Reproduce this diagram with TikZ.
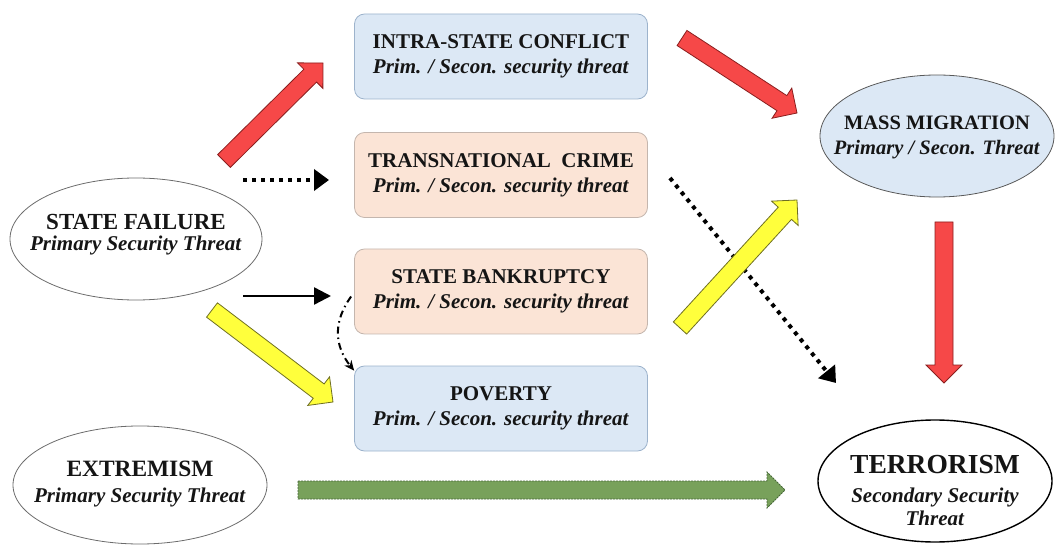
\documentclass[tikz,border=0pt]{standalone}
\usepackage{fontspec}
\setmainfont{Liberation Serif}
\usepackage{tikz}
\usetikzlibrary{shapes,calc}
\usetikzlibrary{arrows.meta}

\definecolor{boxblue}{HTML}{DCE8F5}
\definecolor{boxblueline}{HTML}{9DB3CC}
\definecolor{boxpeach}{HTML}{FBE4D6}
\definecolor{boxpeachline}{HTML}{C4B6AE}
\definecolor{arrowred}{HTML}{F64848}
\definecolor{arrowredline}{HTML}{8A1E1E}
\definecolor{arrowyellow}{HTML}{FFFF3C}
\definecolor{arrowyellowline}{HTML}{6F6F22}
\definecolor{arrowgreen}{HTML}{78A15B}
\definecolor{arrowgreenline}{HTML}{48683A}
\definecolor{inktext}{HTML}{151515}

% italic second line of every label
\newcommand{\kind}[1]{\textit{#1}}

% fat arrow from #2 to #3, as a closed outline
\newcommand{\blockarrow}[3][]{%
  \coordinate (ba-h) at ($(#3)!18pt!(#2)$);
  \draw[#1] ($(#2)!9pt!90:(#3)$) -- ($(ba-h)!9pt!-90:(#2)$)
    -- ($(ba-h)!18pt!-90:(#2)$) -- (#3) -- ($(ba-h)!18pt!90:(#2)$)
    -- ($(ba-h)!9pt!90:(#2)$) -- ($(#2)!9pt!-90:(#3)$) -- cycle;
}

\tikzset{
  threatbox/.style={rectangle, rounded corners=10pt, line width=0.8pt,
    minimum width=293pt, minimum height=85pt, align=center,
    text=inktext, font=\bfseries\fontsize{21}{25}\selectfont},
  bluebox/.style={threatbox, fill=boxblue, draw=boxblueline},
  peachbox/.style={threatbox, fill=boxpeach, draw=boxpeachline},
  threatoval/.style={ellipse, inner sep=0pt, draw=gray!85!black, line width=0.8pt},
  ovaltext/.style={align=center, inner sep=0pt, text=inktext},
  redarrow/.style={fill=arrowred, draw=arrowredline, line width=0.8pt},
  yellowarrow/.style={fill=arrowyellow, draw=arrowyellowline, line width=0.8pt},
  greenarrow/.style={fill=arrowgreen, draw=arrowgreenline, line width=0.8pt,
    dash pattern=on 2pt off 1pt},
  dotarrow/.style={line width=4pt, dash pattern=on 4pt off 5pt,
    -{Triangle[length=15pt,width=21pt]}},
}

\begin{document}
\begin{tikzpicture}[x=1pt,y=-1pt]
  \useasboundingbox (0,0) rectangle (1055,545);

  % middle column
  \node[bluebox] (conflict) at (501,56.5)
    {INTRA-STATE CONFLICT\\\kind{Prim. / Secon. security threat}};
  \node[peachbox] (crime) at (501,175)
    {TRANSNATIONAL~ CRIME\\\kind{Prim. / Secon. security threat}};
  \node[peachbox] (bankrupt) at (501,291.5)
    {STATE BANKRUPTCY\\\kind{Prim. / Secon. security threat}};
  \node[bluebox] (poverty) at (501,408.5)
    {POVERTY\\\kind{Prim. / Secon. security threat}};

  % ovals
  \node[threatoval, fill=white, minimum width=252pt, minimum height=122pt]
    (failure) at (136,239) {};
  \node[ovaltext, font=\bfseries\fontsize{21}{21}\selectfont] (failure-txt) at (136,235)
    {{\fontsize{23}{21}\selectfont STATE FAILURE}\\\kind{Primary Security Threat}};

  \node[threatoval, fill=white, minimum width=254pt, minimum height=118pt]
    (extreme) at (140,485) {};
  \node[ovaltext, font=\bfseries\fontsize{21}{26.5}\selectfont] (extreme-txt) at (140,484)
    {{\fontsize{23.4}{26.5}\selectfont EXTREMISM}\\\kind{Primary Security Threat}};

  \node[threatoval, fill=boxblue, draw=black!65, minimum width=234pt, minimum height=122pt]
    (migration) at (937,136) {};
  \node[ovaltext, font=\bfseries\fontsize{20.5}{25}\selectfont] (migration-txt) at (937,137)
    {MASS MIGRATION\\\kind{Primary / Secon. Threat}};

  \node[threatoval, fill=white, draw=black, line width=1.4pt,
    minimum width=234pt, minimum height=122pt] (terror) at (935,481) {};
  \node[ovaltext, font=\bfseries\fontsize{21}{23}\selectfont] (terror-txt) at (935,491)
    {{\fontsize{27.5}{23}\selectfont TERRORISM}\\[6pt]\kind{Secondary Security}\\\kind{Threat}};

  % ends of the loose arrows
  \coordinate (failure-a) at (224,161);
  \coordinate (conflict-in) at (323,63);
  \coordinate (conflict-a) at (682,38);
  \coordinate (migration-in) at (797,113);
  \coordinate (migration-a) at (944,222);
  \coordinate (terror-in) at (944,383);
  \coordinate (failure-b) at (212,310);
  \coordinate (poverty-in) at (333,402);
  \coordinate (bankrupt-a) at (680,328);
  \coordinate (migration-in2) at (797,200);
  \coordinate (extreme-a) at (298,490);
  \coordinate (terror-in2) at (785,490);
  \coordinate (failure-c) at (243,180);
  \coordinate (crime-in) at (329,180);
  \coordinate (failure-d) at (243,296);
  \coordinate (bankrupt-in) at (331,296);
  \coordinate (crime-a) at (670,178);
  \coordinate (terror-in3) at (836,383);

  % thin arrows
  \draw[dotarrow] (failure-c) -- (crime-in);
  \draw[dotarrow] (crime-a) -- (terror-in3);
  \draw[line width=2.4pt, -{Triangle[length=17pt,width=17pt]}] (failure-d) -- (bankrupt-in);
  \draw[line width=2pt, dash pattern=on 7pt off 4pt on 1.5pt off 4pt,
    -{Stealth[length=10pt,width=9pt]}]
    ([xshift=-3pt,yshift=-5pt]bankrupt.west) .. controls +(-18,25) and +(-20,-25) .. ([yshift=-5pt]poverty.north west);

  % fat arrows
  \blockarrow[redarrow]{failure-a}{conflict-in}
  \blockarrow[redarrow]{conflict-a}{migration-in}
  \blockarrow[redarrow]{migration-a}{terror-in}
  \blockarrow[yellowarrow]{failure-b}{poverty-in}
  \blockarrow[yellowarrow]{bankrupt-a}{migration-in2}
  \blockarrow[greenarrow]{extreme-a}{terror-in2}
\end{tikzpicture}
\end{document}
